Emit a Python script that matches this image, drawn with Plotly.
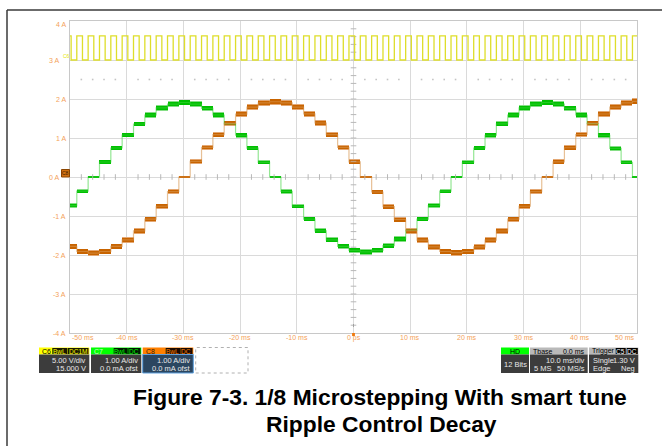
import plotly.graph_objects as go

# ---------------- data ----------------
# start time (ms) of each microstep; each step lasts 2 ms
step_start_ms = [-50.8, -48.8, -46.8, -44.8, -42.8, -40.8, -38.8, -36.8, -34.8, -32.8,
                 -30.8, -28.8, -26.8, -24.8, -22.8, -20.8, -18.8, -16.8, -14.8, -12.8,
                 -10.8, -8.8, -6.8, -4.8, -2.8, -0.8, 1.2, 3.2, 5.2, 7.2,
                 9.2, 11.2, 13.2, 15.2, 17.2, 19.2, 21.2, 23.2, 25.2, 27.2,
                 29.2, 31.2, 33.2, 35.2, 37.2, 39.2, 41.2, 43.2, 45.2, 47.2,
                 49.2]
step_len_ms = 2.0

# C7 (green) current level on each step, A
c7_current_A = [-0.735, -0.36, 0.0, 0.385, 0.744, 1.077, 1.359, 1.59, 1.77, 1.87,
                1.91, 1.87, 1.76, 1.59, 1.36, 1.07, 0.74, 0.376, 0.0, -0.37,
                -0.75, -1.08, -1.38, -1.61, -1.78, -1.88, -1.92, -1.88, -1.76, -1.59,
                -1.36, -1.08, -0.735, -0.36, 0.0, 0.376, 0.744, 1.07, 1.36, 1.59,
                1.77, 1.87, 1.91, 1.87, 1.76, 1.59, 1.37, 1.07, 0.735, 0.376,
                0.0]
# C8 (orange) current level on each step, A
c8_current_A = [-1.78, -1.91, -1.95, -1.91, -1.78, -1.61, -1.38, -1.08, -0.75, -0.376,
                0.0, 0.40, 0.76, 1.085, 1.376, 1.61, 1.79, 1.90, 1.93, 1.90,
                1.79, 1.62, 1.385, 1.085, 0.76, 0.39, 0.0, -0.385, -0.76, -1.09,
                -1.38, -1.62, -1.79, -1.91, -1.94, -1.91, -1.79, -1.62, -1.385, -1.08,
                -0.75, -0.376, 0.0, 0.39, 0.75, 1.09, 1.376, 1.615, 1.79, 1.90,
                1.94]
# C6 (yellow) step pulse, displayed on the A grid
c6_high = 3.62
c6_low = 3.0
c6_pulse_ms = 1.0

x_tick_vals = [-50, -40, -30, -20, -10, 0, 10, 20, 30, 40, 50]
x_tick_text = ["-50 ms", "-40 ms", "-30 ms", "-20 ms", "-10 ms", "0 ps",
               "10 ms", "20 ms", "30 ms", "40 ms", "50 ms"]
y_tick_vals = [4, 3, 2, 1, 0, -1, -2, -3, -4]
y_tick_text = ["4 A", "3 A", "2 A", "1 A", "0 A", "-1 A", "-2 A", "-3 A", "-4 A"]

# ---------------- geometry helpers ----------------
W, H = 662, 446
L, R, T, B = 70, 637, 21, 333


def px(x):
    return (x - L) / (R - L)


def py(y):
    return (B - y) / (B - T)


fig = go.Figure()

GRAT = "#b8b8b8"
# graticule minor ticks
fig.add_trace(go.Scatter(x=[t for t in range(-48, 50, 2) if t % 10], y=[0] * 40,
                         mode="markers", hoverinfo="skip",
                         marker=dict(symbol="line-ns", size=4, line=dict(width=1, color=GRAT))))
fig.add_trace(go.Scatter(x=[t for t in range(-48, 50, 2) if t % 10], y=[2.5] * 40,
                         mode="markers", hoverinfo="skip",
                         marker=dict(symbol="square", size=1.6, color="#c4c4c4", line=dict(width=0))))
fig.add_trace(go.Scatter(x=[0] * 39, y=[i / 5 for i in range(-19, 20)],
                         mode="markers", hoverinfo="skip",
                         marker=dict(symbol="line-ew", size=4, line=dict(width=1, color=GRAT))))


def stepped(levels):
    xs = list(step_start_ms) + [step_start_ms[-1] + step_len_ms]
    ys = list(levels) + [levels[-1]]
    return xs, ys


def band(levels, extra):
    centers = [t + step_len_ms / 2 for t in step_start_ms]
    h = [0.025 if abs(v) < 0.05 else 0.07 + extra + 0.02 * abs(v) for v in levels]
    base = [v - hh / 2 for v, hh in zip(levels, h)]
    return centers, base, h


for levels, light, fringe, core, extra in [
    (c7_current_A, "rgba(60,210,60,0.55)", "#86de86", "#00c000", 0.0),
    (c8_current_A, "rgba(215,150,80,0.6)", "#e4a874", "#c86400", 0.01),
]:
    xs, ys = stepped(levels)
    fig.add_trace(go.Scatter(x=xs, y=ys, mode="lines", line=dict(shape="hv", width=1.2, color=light),
                             hoverinfo="skip"))
    c, b, h = band(levels, extra + 0.03)
    fig.add_trace(go.Bar(x=c, base=b, y=h, width=step_len_ms, marker=dict(color=fringe, line=dict(width=0))))
    c, b, h = band(levels, extra)
    fig.add_trace(go.Bar(x=c, base=b, y=h, width=step_len_ms, marker=dict(color=core, line=dict(width=0))))

# yellow step pulses
yx, yy = [], []
for t in step_start_ms:
    yx += [t, t + c6_pulse_ms]
    yy += [c6_high, c6_low]
yx.append(step_start_ms[-1] + step_len_ms)
yy.append(c6_low)
fig.add_trace(go.Scatter(x=yx, y=yy, mode="lines", line=dict(shape="hv", width=1.3, color="#dede2a"),
                         hoverinfo="skip"))

shapes = []
ann = []

# page frame
shapes.append(dict(type="line", xref="paper", yref="paper", x0=px(7), x1=px(662), y0=py(10), y1=py(10),
                   line=dict(color="#3a3a3a", width=1.5)))
shapes.append(dict(type="line", xref="paper", yref="paper", x0=px(7), x1=px(7), y0=py(10), y1=py(446),
                   line=dict(color="#3a3a3a", width=1.5)))

# axis tick labels
LBL = "#f4a25a"
for v, s in zip(x_tick_vals, x_tick_text):
    xa = "center"
    if v == -50:
        xa = "left"
    if v == 50:
        xa = "right"
    ann.append(dict(x=v, y=py(337.5), xref="x", yref="paper", text=s, showarrow=False,
                    xanchor=xa, yanchor="middle", font=dict(size=7, color=LBL, family="Liberation Sans")))
for v, s in zip(y_tick_vals, y_tick_text):
    yy_ = v
    xr = 67.5
    if v == 4:
        yy_ = 3.9
    if v in (3, 0):
        xr = 60.5
    ann.append(dict(x=px(xr), y=yy_, xref="paper", yref="y", text=s, showarrow=False,
                    xanchor="right", yanchor="middle", font=dict(size=7, color=LBL, family="Liberation Sans")))

# trigger marker at 0
shapes.append(dict(type="rect", xref="x", yref="paper", x0=-0.25, x1=0.25, y0=py(336), y1=py(333),
                   fillcolor="#f07a10", line=dict(width=0)))
shapes.append(dict(type="line", xref="x", yref="paper", x0=0, x1=0, y0=py(324), y1=py(327),
                   line=dict(color="#a0a0a0", width=1)))

# channel markers at left
ann.append(dict(x=px(66), y=py(56), xref="paper", yref="paper", text="C6", showarrow=False,
                font=dict(size=5, color="#e6e600", family="Liberation Sans"), xanchor="center", yanchor="middle"))
shapes.append(dict(type="rect", xref="paper", yref="paper", x0=px(61.5), x1=px(69.5), y0=py(177), y1=py(169.5),
                   fillcolor="#d07010", line=dict(color="#8a4500", width=1)))
ann.append(dict(x=px(65.5), y=py(173.2), xref="paper", yref="paper", text="C8", showarrow=False,
                font=dict(size=5, color="#3a1a00", family="Liberation Sans"), xanchor="center", yanchor="middle"))

# ---------------- status badges ----------------
HDR_T, HDR_B, BODY_B = 347.5, 354.5, 373
BODY = "#3c3c3c"
FS = 7.5
TXT = "#e8e8e8"


def rect(x0, x1, y0, y1, fill, line=None, dash=None):
    d = dict(type="rect", xref="paper", yref="paper", x0=px(x0), x1=px(x1), y0=py(y1), y1=py(y0),
             fillcolor=fill, line=dict(width=0) if line is None else dict(color=line, width=1, dash=dash))
    shapes.append(d)


def text(x, y, s, color, anchor="left", size=FS):
    ann.append(dict(x=px(x), y=py(y), xref="paper", yref="paper", text=s, showarrow=False,
                    xanchor=anchor, yanchor="middle", font=dict(size=size, color=color, family="Liberation Sans")))


def channel(x0, x1, hdr, name, name_col, tags, tag_col, tag_bg, l1, l2, body=BODY, border=None):
    rect(x0, x1, HDR_T, HDR_B, hdr)
    rect(x0, x1, HDR_B, BODY_B, body, border)
    text(x0 + 1, (HDR_T + HDR_B) / 2 + 0.3, name, name_col, size=7)
    for (a, b_, s) in tags:
        rect(a, b_, HDR_T + 0.5, HDR_B - 0.5, tag_bg)
        text((a + b_) / 2, (HDR_T + HDR_B) / 2 + 0.3, s, tag_col, "center", size=6.5)
    text(x1 - 1.5, 361, l1, TXT, "right")
    text(x1 - 1.5, 368.5, l2, TXT, "right")


channel(39, 89.3, "#ffff00", "C6", "#000000",
        [(52.3, 67.3, "BwL"), (67.7, 88.5, "DC1M")], "#ffff00", "#1a1a00", "5.00 V/div", "15.000 V")
channel(91, 141.3, "#00ff00", "C7", "#c8ffc8",
        [(113.7, 127.7, "BwL"), (128.3, 140.5, "DC")], "#00ff00", "#001a00", "1.00 A/div", "0.0 mA ofst")
channel(142.7, 193.3, "#ff8000", "C8", "#3a1a00",
        [(165.7, 180, "BwL"), (180.3, 192.5, "DC")], "#ff8000", "#1a0a00", "1.00 A/div", "0.0 mA ofst",
        body="#2b4660", border="#5ea0de")
rect(195.7, 248, HDR_T, BODY_B, "rgba(0,0,0,0)", "#b0b0b0", "dot")

# HD
rect(501, 529, HDR_T, HDR_B, "#00ff00")
rect(501, 529, HDR_B, BODY_B, BODY)
text(515, (HDR_T + HDR_B) / 2 + 0.3, "HD", "#000000", "center", 7)
text(515, 364.5, "12 Bits", TXT, "center")
# Tbase
rect(530, 587.7, HDR_T, HDR_B, "#b9b9b9")
rect(530, 587.7, HDR_B, BODY_B, BODY)
text(531, (HDR_T + HDR_B) / 2 + 0.3, "Tbase", "#000000", "left", 7)
text(587, (HDR_T + HDR_B) / 2 + 0.3, "0.0 ms", "#000000", "right", 7)
text(586.5, 361, "10.0 ms/div", TXT, "right")
text(531.5, 368.5, "5 MS", TXT, "left")
text(586.5, 368.5, "50 MS/s", TXT, "right")
# Trigger
rect(589, 638.3, HDR_T, HDR_B, "#b9b9b9")
rect(589, 638.3, HDR_B, BODY_B, BODY)
text(590, (HDR_T + HDR_B) / 2 + 0.3, "Trigger", "#000000", "left", 7)
rect(615.7, 625.7, HDR_T + 0.5, HDR_B - 0.5, "#000000")
text(620.7, (HDR_T + HDR_B) / 2 + 0.3, "C5", "#ffffff", "center", 6.5)
rect(626.7, 637.8, HDR_T + 0.5, HDR_B - 0.5, "#000000")
text(632.2, (HDR_T + HDR_B) / 2 + 0.3, "DC", "#ffffff", "center", 6.5)
text(590.5, 361, "Single", TXT, "left")
text(637, 361, "1.30 V", TXT, "right")
text(590.5, 368.5, "Edge", TXT, "left")
text(637, 368.5, "Neg", TXT, "right")

# caption
CAP = dict(size=22.8, color="#000000", family="Liberation Sans", weight="bold")
ann.append(dict(x=px(380), y=py(397), xref="paper", yref="paper", text="Figure 7-3. 1/8 Microstepping With smart tune",
                showarrow=False, xanchor="center", yanchor="middle", font=CAP))
ann.append(dict(x=px(381), y=py(424), xref="paper", yref="paper", text="Ripple Control Decay",
                showarrow=False, xanchor="center", yanchor="middle", font=CAP))

fig.update_layout(
    width=W, height=H,
    margin=dict(l=L, r=W - R, t=T, b=H - B, pad=0),
    paper_bgcolor="white", plot_bgcolor="white",
    showlegend=False, barmode="overlay", bargap=0,
    xaxis=dict(range=[-50, 50], tickvals=x_tick_vals, showticklabels=False, ticks="",
               showgrid=True, gridcolor="#dadada", gridwidth=1.2, zeroline=False,
               showline=True, mirror=True, linecolor="#c8c8c8", linewidth=1),
    yaxis=dict(range=[-4, 4], tickvals=y_tick_vals, showticklabels=False, ticks="",
               showgrid=True, gridcolor="#dadada", gridwidth=1.2, zeroline=False,
               showline=True, mirror=True, linecolor="#c8c8c8", linewidth=1),
    shapes=shapes, annotations=ann,
)

fig.write_html("out.html", config={"displayModeBar": False},
               post_script="document.body.style.margin='0px';document.body.style.padding='0px';"
                           "document.body.style.overflow='hidden';")
